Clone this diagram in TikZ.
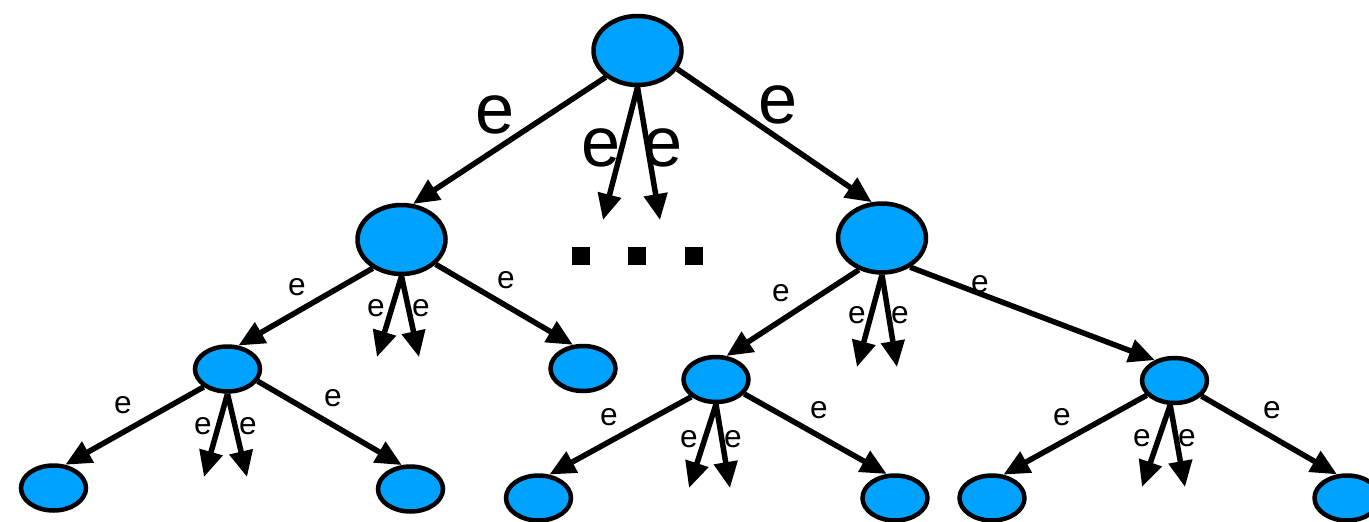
\documentclass[tikz,border=0pt]{standalone}
\usepackage{fontspec}
\setmainfont{Liberation Sans}
\usetikzlibrary{shapes.geometric,arrows.meta}
\definecolor{nodeblue}{RGB}{0,162,255}

\begin{document}
\begin{tikzpicture}[x=0.02cm,y=-0.02cm,
	bigstate/.style={ellipse,draw,line width=0.09cm,fill=nodeblue,inner sep=0pt,minimum width=1.76cm,minimum height=1.38cm},
	state/.style={ellipse,draw,line width=0.09cm,fill=nodeblue,inner sep=0pt,minimum width=1.30cm,minimum height=0.90cm},
	trans/.style={line width=0.11cm,-{Triangle[length=0.52cm,width=0.46cm]}},
	elabel/.style={inner sep=0pt,font=\fontsize{18}{18}\selectfont},
	bigelabel/.style={inner sep=0pt,font=\fontsize{40}{40}\selectfont},
	sq/.style={fill=black,inner sep=0pt,minimum size=0.36cm}]
		
		\clip (0,0) rectangle (1369,521);
		
		% states
		\node[bigstate] (root) at (637.5,50.5) {};
		\node[bigstate] (nl) at (401.5,239.5) {};
		\node[bigstate] (nr) at (882,238) {};
		\node[state] (nla) at (227.5,369) {};
		\node[state] (nlb) at (583,368.5) {};
		\node[state] (nra) at (716,379.5) {};
		\node[state] (nrb) at (1174.5,380.5) {};
		\node[state] (nla1) at (53.5,488) {};
		\node[state] (nla2) at (410.5,489) {};
		\node[state] (nra1) at (538.5,498) {};
		\node[state] (nra2) at (895,498) {};
		\node[state] (nrb1) at (992,498) {};
		\node[state] (nrb2) at (1347,498) {};
		
		% open ends
		\coordinate (root-x) at (603,220);
		\coordinate (root-y) at (660,220);
		\coordinate (nl-x) at (377,357);
		\coordinate (nl-y) at (419,357);
		\coordinate (nr-x) at (857,367);
		\coordinate (nr-y) at (897,367);
		\coordinate (nla-x) at (204,477);
		\coordinate (nla-y) at (247,477);
		\coordinate (nra-x) at (689,488);
		\coordinate (nra-y) at (730,488);
		\coordinate (nrb-x) at (1142,487);
		\coordinate (nrb-y) at (1185,487);
		
		% transitions
		\draw[trans] (root.220) -- (nl.72);
		\draw[trans] (root.south) -- (root-x);
		\draw[trans] (root.south) -- (root-y);
		\draw[trans] (root.335) -- (nr.106);
		
		\draw[trans] (nl.225) -- (nla.65);
		\draw[trans] (nl.south) -- (nl-x);
		\draw[trans] (nl.south) -- (nl-y);
		\draw[trans] (nl.324) -- (nlb.113);
		
		\draw[trans] (nr.234) -- (nra.66);
		\draw[trans] (nr.south) -- (nr-x);
		\draw[trans] (nr.south) -- (nr-y);
		\draw[trans] (nr.314) -- (nrb.134);
		
		\draw[trans] (nla.217) -- (nla1.63);
		\draw[trans] (nla.south) -- (nla-x);
		\draw[trans] (nla.south) -- (nla-y);
		\draw[trans] (nla.338) -- (nla2.110);
		
		\draw[trans] (nra.215) -- (nra1.65);
		\draw[trans] (nra.south) -- (nra-x);
		\draw[trans] (nra.south) -- (nra-y);
		\draw[trans] (nra.333) -- (nra2.109);
		
		\draw[trans] (nrb.208) -- (nrb1.64);
		\draw[trans] (nrb.260) -- (nrb-x);
		\draw[trans] (nrb.260) -- (nrb-y);
		\draw[trans] (nrb.330) -- (nrb2.113);
		
		% labels
		\node[bigelabel] (root-l) at (495,115) {e};
		\node[bigelabel] (root-m1) at (601,148) {e};
		\node[bigelabel] (root-m2) at (663,148) {e};
		\node[bigelabel] (root-r) at (778,105) {e};
		
		\node[elabel] (nl-l) at (297,287) {e};
		\node[elabel] (nl-m1) at (376,308) {e};
		\node[elabel] (nl-m2) at (421,308) {e};
		\node[elabel] (nl-r) at (506,280) {e};
		
		\node[elabel] (nr-l) at (781,293) {e};
		\node[elabel] (nr-m1) at (857,315) {e};
		\node[elabel] (nr-m2) at (900,315) {e};
		\node[elabel] (nr-r) at (980,284) {e};
		
		\node[elabel] (nla-l) at (123,405) {e};
		\node[elabel] (nla-m1) at (203,426) {e};
		\node[elabel] (nla-m2) at (248,426) {e};
		\node[elabel] (nla-r) at (333,398) {e};
		
		\node[elabel] (nra-l) at (609,417) {e};
		\node[elabel] (nra-m1) at (689,439) {e};
		\node[elabel] (nra-m2) at (733,439) {e};
		\node[elabel] (nra-r) at (819,410) {e};
		
		\node[elabel] (nrb-l) at (1062,417) {e};
		\node[elabel] (nrb-m1) at (1142,438) {e};
		\node[elabel] (nrb-m2) at (1187,438) {e};
		\node[elabel] (nrb-r) at (1272,410) {e};
		
		% more siblings
		\node[sq] (more1) at (581,256) {};
		\node[sq] (more2) at (637,256) {};
		\node[sq] (more3) at (694,256) {};
	\end{tikzpicture}
\end{document}
